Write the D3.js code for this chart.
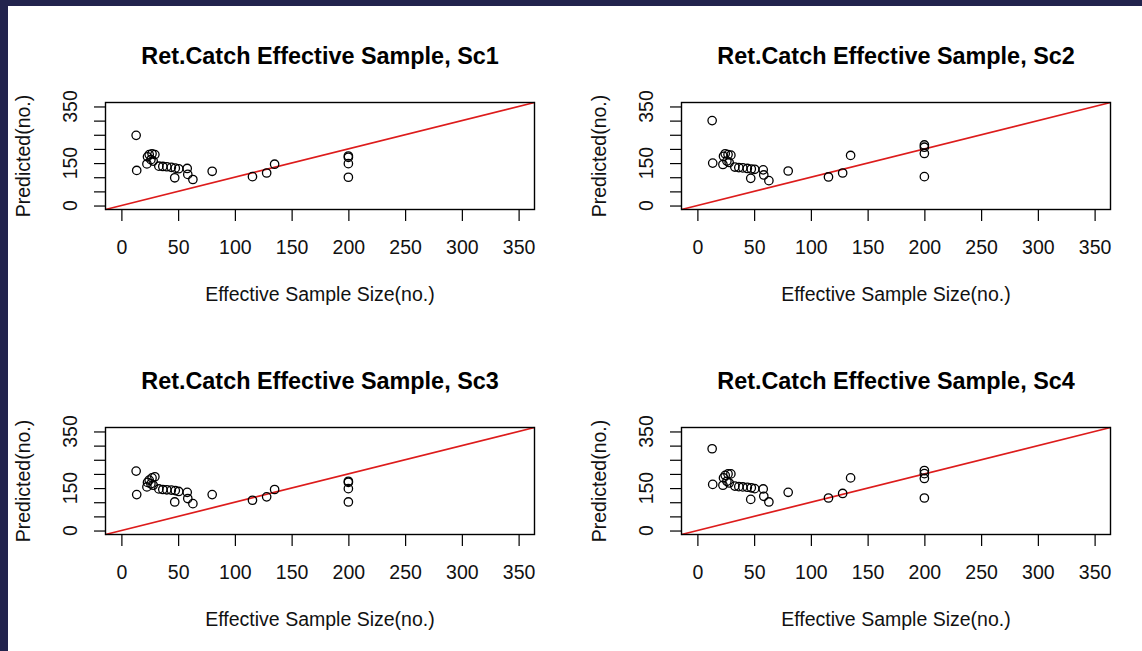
<!DOCTYPE html>
<html>
<head>
<meta charset="utf-8">
<script src="https://cdn.jsdelivr.net/npm/d3@7"></script>
<style>
  body { margin: 0; background: #ffffff; }
  svg { display: block; font-family: "Liberation Sans", Arial, sans-serif; }
</style>
</head>
<body>
<div id="chart"></div>
<script>
// Effective sample size (same x values in every scenario)
const sampleSize = [13, 13.5, 22.5, 23, 24.5, 26, 27, 28, 29.5, 33, 36.5, 40, 44, 47.5, 50.5,
  58, 47, 58.5, 63, 80, 115.5, 128, 135, 200, 200, 200, 200];

// Predicted values per scenario
const predictedSc1 = [248, 124, 147, 172, 180, 162, 183, 157, 180, 139, 138, 137, 135, 132, 130,
  131, 98, 110, 92, 121, 102, 115, 146, 175, 170, 148, 100];
const predictedSc2 = [300, 150, 145, 174, 183, 157, 180, 152, 178, 136, 134, 133, 131, 129, 128,
  126, 96, 108, 88, 122, 101, 115, 177, 214, 206, 184, 102];
const predictedSc3 = [210, 127, 154, 170, 178, 165, 186, 160, 190, 147, 145, 144, 143, 141, 138,
  135, 101, 113, 95, 127, 107, 119, 145, 174, 170, 148, 101];
const predictedSc4 = [289, 163, 160, 186, 195, 174, 200, 168, 200, 157, 155, 154, 153, 151, 148,
  147, 110, 121, 101, 135, 115, 131, 186, 212, 201, 184, 115];

const panelTitles = ["Ret.Catch Effective Sample, Sc1", "Ret.Catch Effective Sample, Sc2",
  "Ret.Catch Effective Sample, Sc3", "Ret.Catch Effective Sample, Sc4"];
const xTicks = [0, 50, 100, 150, 200, 250, 300, 350];
const yTicks = [0, 50, 100, 150, 200, 250, 300, 350];
const yTickLabels = [0, 150, 350];
const axisDomain = [-14, 364];

const width = 1142, height = 651;
const navy = "#22234d";

const svg = d3.select("#chart")
  .append("svg")
  .attr("width", width)
  .attr("height", height);

svg.append("rect").attr("width", width).attr("height", height).attr("fill", "#ffffff");
svg.append("rect").attr("width", width).attr("height", 6).attr("fill", navy);
svg.append("rect").attr("width", 8).attr("height", height).attr("fill", navy);

const panels = [predictedSc1, predictedSc2, predictedSc3, predictedSc4];
const origins = [[0, 0], [576, 0], [0, 325], [576, 325]];

// box of one panel, relative to its origin
const box = { left: 105.5, right: 534.5, top: 102.5, bottom: 209.5 };

panels.forEach((values, i) => {
  const g = svg.append("g")
    .attr("transform", "translate(" + origins[i][0] + "," + origins[i][1] + ")");

  const x = d3.scaleLinear().domain(axisDomain).range([box.left, box.right]);
  const y = d3.scaleLinear().domain(axisDomain).range([box.bottom, box.top]);
  const cx = (box.left + box.right) / 2;
  const cy = (box.top + box.bottom) / 2;

  // x axis
  const xa = g.append("g")
    .attr("transform", "translate(0," + box.bottom + ")")
    .call(d3.axisBottom(x).tickValues(xTicks).tickSize(11.5).tickSizeOuter(0));
  xa.select(".domain").remove();
  xa.selectAll("line").attr("stroke", "#000").attr("stroke-width", 1.2);
  xa.selectAll("text")
    .attr("y", 44).attr("dy", 0)
    .attr("fill", "#111")
    .style("font-family", "'Liberation Sans', Arial, sans-serif")
    .style("font-size", "19.5px");

  // y axis (labels rotated, as in R)
  const ya = g.append("g")
    .attr("transform", "translate(" + box.left + ",0)")
    .call(d3.axisLeft(y).tickValues(yTicks).tickSize(11.5).tickSizeOuter(0).tickFormat(""));
  ya.select(".domain").remove();
  ya.selectAll("line").attr("stroke", "#000").attr("stroke-width", 1.2);

  g.selectAll(".ylab")
    .data(yTickLabels)
    .enter().append("text")
    .attr("class", "ylab")
    .attr("transform", d => "translate(" + (box.left - 28.5) + "," + y(d) + ") rotate(-90)")
    .attr("text-anchor", "middle")
    .style("font-size", "19.5px")
    .attr("fill", "#111")
    .text(d => d);

  // 1:1 line
  g.append("line")
    .attr("x1", x(axisDomain[0])).attr("y1", y(axisDomain[0]))
    .attr("x2", x(axisDomain[1])).attr("y2", y(axisDomain[1]))
    .attr("stroke", "#dd1c1c")
    .attr("stroke-width", 1.7);

  // points
  g.selectAll(".pt")
    .data(values.map((v, j) => ({ ess: sampleSize[j], pred: v })))
    .enter().append("circle")
    .attr("class", "pt")
    .attr("cx", d => x(d.ess))
    .attr("cy", d => y(d.pred))
    .attr("r", 4.2)
    .attr("fill", "none")
    .attr("stroke", "#000")
    .attr("stroke-width", 1.3);

  // plot box
  g.append("rect")
    .attr("x", box.left).attr("y", box.top)
    .attr("width", box.right - box.left).attr("height", box.bottom - box.top)
    .attr("fill", "none")
    .attr("stroke", "#000")
    .attr("stroke-width", 1.4);

  // titles
  g.append("text")
    .attr("x", cx).attr("y", 64)
    .attr("text-anchor", "middle")
    .style("font-size", "23.4px")
    .style("font-weight", "bold")
    .attr("fill", "#000")
    .text(panelTitles[i]);

  g.append("text")
    .attr("x", cx).attr("y", box.bottom + 91)
    .attr("text-anchor", "middle")
    .style("font-size", "19.5px")
    .attr("fill", "#111")
    .text("Effective Sample Size(no.)");

  g.append("text")
    .attr("transform", "translate(" + (box.left - 76) + "," + cy + ") rotate(-90)")
    .attr("text-anchor", "middle")
    .style("font-size", "19.5px")
    .attr("fill", "#111")
    .text("Predicted(no.)");
});
</script>
</body>
</html>
